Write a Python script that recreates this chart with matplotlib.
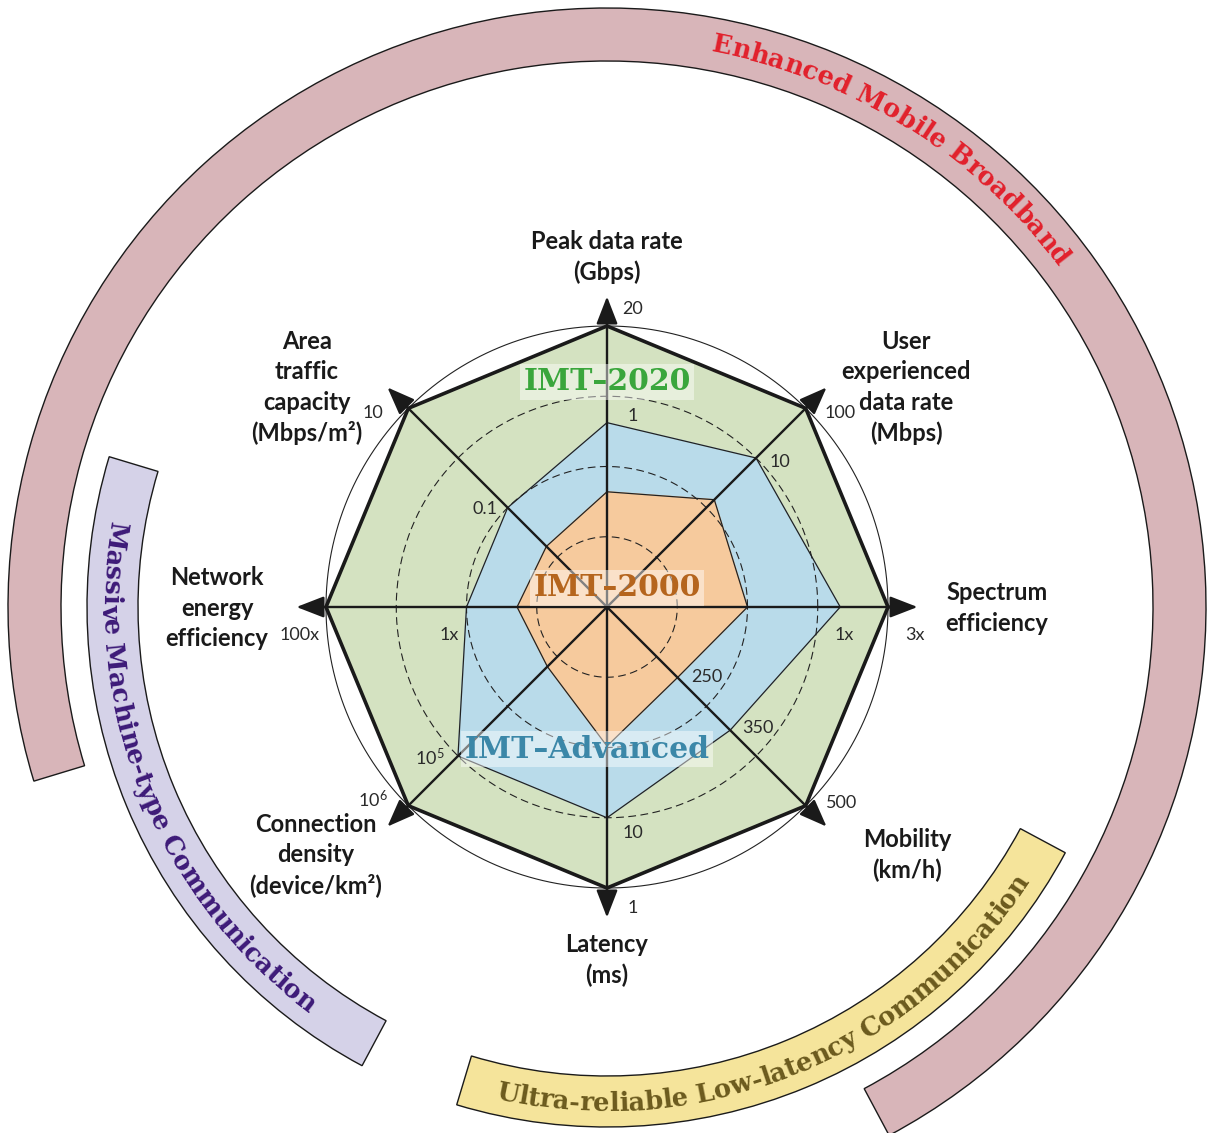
import numpy as np
import matplotlib
matplotlib.use('Agg')
import matplotlib.pyplot as plt
from matplotlib.font_manager import FontProperties

plt.rcParams['mathtext.fontset'] = 'custom'
plt.rcParams['mathtext.rm'] = 'Lato'
plt.rcParams['mathtext.it'] = 'Lato'

# axes of the radar, counter-clockwise starting on the right
categories = ['Spectrum\nefficiency', 'User\nexperienced\ndata rate\n(Mbps)',
              'Peak data rate\n(Gbps)', 'Area\ntraffic\ncapacity\n(Mbps/m²)',
              'Network\nenergy\nefficiency', 'Connection\ndensity\n(device/km²)',
              'Latency\n(ms)', 'Mobility\n(km/h)']
axis_deg = [0, 45, 90, 135, 180, 225, 270, 315]

# relative radius of each series on each axis (1 = outer ring)
imt_2020 = [1.0, 1.0, 1.0, 1.0, 1.0, 1.0, 1.0, 1.0]
imt_adv = [0.83, 0.75, 0.656, 0.50, 0.50, 0.75, 0.75, 0.62]
imt_2000 = [0.50, 0.54, 0.41, 0.305, 0.32, 0.30, 0.495, 0.355]

# value labels
ticks_2020 = ['3x', '100', '20', '10', '100x', r'10$^6$', '1', '500']
ticks_adv = ['1x', '10', '1', '0.1', '1x', r'10$^5$', '10', '350']
ticks_2000 = {7: '250'}

scenarios = ['Enhanced Mobile Broadband', 'Massive Machine-type Communication',
             'Ultra-reliable Low-latency Communication']

# ---- layout (pixels) ----
W, H = 1207, 1133
CX, CY = 607, 607          # centre of radar, from top-left
R = 281.0                  # outer ring radius in px
RMAX = 615.0

fig = plt.figure(figsize=(W / 100, H / 100), dpi=100)
fig.patch.set_facecolor('white')
ax = fig.add_axes([(CX - RMAX) / W, (H - CY - RMAX) / H, 2 * RMAX / W, 2 * RMAX / H],
                  projection='polar')
ax.set_ylim(0, RMAX / R)
ax.set_axis_off()

th = np.deg2rad(axis_deg)
th_c = np.append(th, th[0])

# scenario bands
band_col = ['#d8b5b9', '#d5d2e8', '#f5e49b']
band_span = [(-61.9, 196.9), (163.2, 241.9), (-106.8, -28.2)]
band_r = [(546, 599), (469, 520), (469, 520)]
for c, (a0, a1), (r0, r1) in zip(band_col, band_span, band_r):
    ax.bar(np.deg2rad((a0 + a1) / 2), (r1 - r0) / R, width=np.deg2rad(a1 - a0),
           bottom=r0 / R, color=c, edgecolor='#1a1a1a', linewidth=1.0, zorder=1)

# series fills
ax.fill(th_c, np.append(imt_2020, imt_2020[0]), color='#d4e2c1', zorder=2)
ax.fill(th_c, np.append(imt_adv, imt_adv[0]), color='#b9dbea', zorder=3)
ax.fill(th_c, np.append(imt_2000, imt_2000[0]), color='#f6ca9d', zorder=4)

# rings
t = np.linspace(0, 2 * np.pi, 500)
for rr in [0.25, 0.5, 0.75]:
    ax.plot(t, np.full_like(t, rr), color='#222222', lw=0.8, ls=(0, (7, 4)), zorder=5)
ax.plot(t, np.ones_like(t), color='#222222', lw=0.8, zorder=5)

# series edges
ax.plot(th_c, np.append(imt_2000, imt_2000[0]), color='#222222', lw=0.9, zorder=6)
ax.plot(th_c, np.append(imt_adv, imt_adv[0]), color='#222222', lw=0.9, zorder=6)
ax.plot(th_c, np.append(imt_2020, imt_2020[0]), color='#1a1a1a', lw=2.6, zorder=7)

# axis arrows
for a in th:
    ax.annotate('', xy=(a, 1.105), xytext=(a, 0), zorder=8,
                arrowprops=dict(arrowstyle='-|>,head_length=0.85,head_width=0.33',
                                mutation_scale=20, color='#1a1a1a', lw=1.7,
                                shrinkA=0, shrinkB=0))

# value labels
tick_font = dict(fontsize=13, color='#2a2a2a', family='Lato', ha='center', va='center', zorder=9)
off_2020 = [(27, -28), (34, -5), (26, 17), (-35, -5), (-26, -28), (-35, 6), (26, -20), (36, 3)]
off_adv = [(4, -28), (24, -4), (26, 7), (-23, -1), (-17, -28), (-28, -1), (26, -15), (28, 2)]
for i, a in enumerate(th):
    ax.annotate(ticks_2020[i], xy=(a, imt_2020[i]), xytext=off_2020[i],
                textcoords='offset pixels', **tick_font)
    ax.annotate(ticks_adv[i], xy=(a, imt_adv[i]), xytext=off_adv[i],
                textcoords='offset pixels', **tick_font)
for i, s in ticks_2000.items():
    ax.annotate(s, xy=(th[i], imt_2000[i]), xytext=(29, 1),
                textcoords='offset pixels', **tick_font)

# category labels, one text per line
cat_off = [(390, -1), (299, 220), (0, 350), (-300, 220), (-390, -1), (-291, -248),
           (0, -353), (300, -248)]
line_gap = 30.5
for lab, (ox, oy) in zip(categories, cat_off):
    lines = lab.split('\n')
    for k, ln in enumerate(lines):
        dy = oy + ((len(lines) - 1) / 2 - k) * line_gap
        ax.annotate(ln, xy=(0, 0), xytext=(ox, dy), textcoords='offset pixels',
                    ha='center', va='center', fontsize=17, fontweight='bold',
                    family='Lato', color='#1a1a1a')

# series names
name_kw = dict(xy=(0, 0), textcoords='offset pixels', ha='center', va='center',
               fontsize=21.5, fontweight='bold', family='DejaVu Serif', zorder=10)
box = dict(boxstyle='square,pad=0.12', fc='white', ec='none', alpha=0.45)
ax.annotate('IMT\u20132020', xytext=(0, 225), color='#3aa63c', bbox=box, **name_kw)
ax.annotate('IMT\u20132000', xytext=(10, 19), color='#b5651d', bbox=box, **name_kw)
ax.annotate('IMT\u2013Advanced', xytext=(-20, -142), color='#3b87a8', bbox=box, **name_kw)

# curved scenario text
renderer = fig.canvas.get_renderer()


def width_px(s, fp):
    w_bar = renderer.get_text_width_height_descent('|', fp, ismath=False)[0]
    return renderer.get_text_width_height_descent(s + '|', fp, ismath=False)[0] - w_bar


def arc_text(text, center_deg, r_base, fp, color, clockwise):
    cum = [width_px(text[:i], fp) if i else 0.0 for i in range(len(text) + 1)]
    total = cum[-1]
    for i, ch in enumerate(text):
        if ch == ' ':
            continue
        s = (cum[i] + cum[i + 1]) / 2 - total / 2
        d = np.rad2deg(s / r_base)
        if clockwise:
            ang = center_deg - d
            rot = ang - 90
        else:
            ang = center_deg + d
            rot = ang + 90
        ax.text(np.deg2rad(ang), r_base / R, ch, rotation=rot, rotation_mode='anchor',
                ha='center', va='baseline', fontproperties=fp, color=color, zorder=11)


fp_arc = FontProperties(family='DejaVu Serif', weight='bold', size=18.5)
arc_text(scenarios[0], 58.2, 565, fp_arc, '#e2202b', True)
arc_text(scenarios[1], 201.9, 504, fp_arc, '#3d1a78', False)
arc_text(scenarios[2], -67.9, 504, fp_arc, '#6b5a1e', False)

fig.savefig('out.png', dpi=100, facecolor='white')
